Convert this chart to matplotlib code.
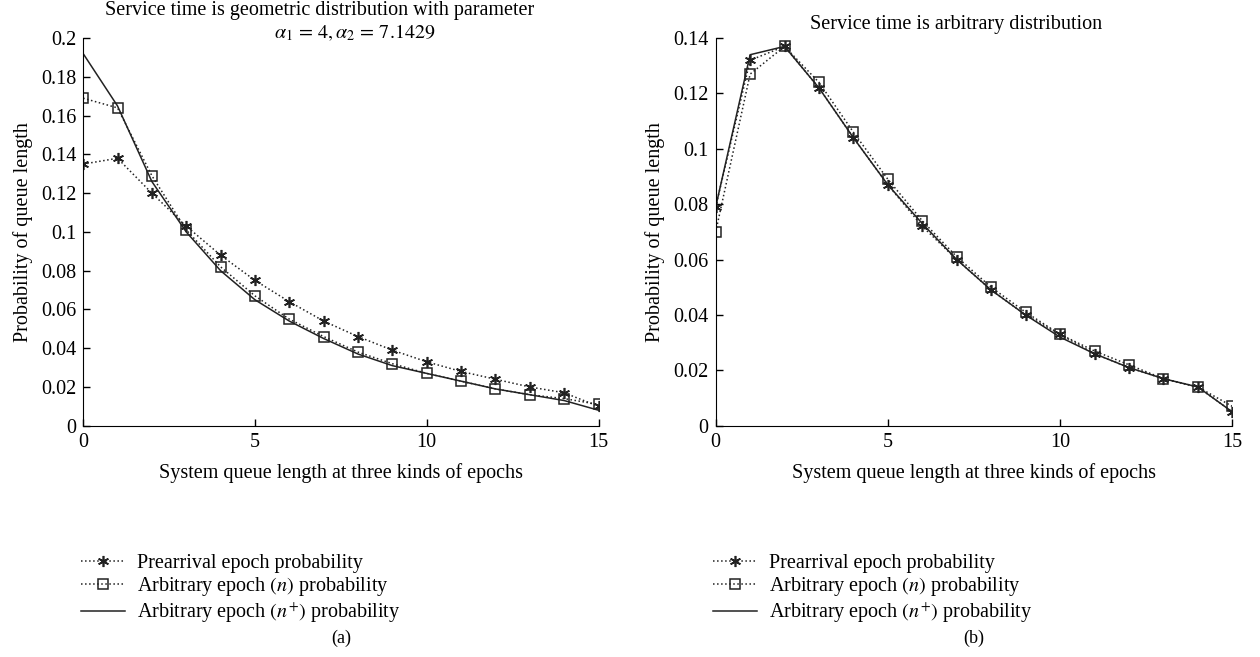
import numpy as np
import matplotlib
matplotlib.use("Agg")
import matplotlib.pyplot as plt

plt.rcParams['font.family'] = ['Liberation Serif', 'DejaVu Serif']
plt.rcParams['mathtext.fontset'] = 'stix'
plt.rcParams['font.size'] = 14.5

x = np.arange(16)

# (a) geometric service time
pre_a = [0.135, 0.138, 0.120, 0.103, 0.088, 0.075, 0.064, 0.054, 0.046, 0.039,
         0.033, 0.028, 0.024, 0.020, 0.017, 0.010]
arb_a = [0.169, 0.164, 0.129, 0.101, 0.082, 0.067, 0.055, 0.046, 0.038, 0.032,
         0.027, 0.023, 0.019, 0.016, 0.014, 0.011]
plus_a = [0.192, 0.165, 0.126, 0.100, 0.080, 0.065, 0.054, 0.045, 0.037, 0.031,
          0.027, 0.023, 0.019, 0.016, 0.013, 0.008]

# (b) arbitrary service time
pre_b = [0.079, 0.132, 0.137, 0.122, 0.104, 0.087, 0.072, 0.060, 0.049, 0.040,
         0.033, 0.026, 0.021, 0.017, 0.014, 0.005]
arb_b = [0.070, 0.127, 0.137, 0.124, 0.106, 0.089, 0.074, 0.061, 0.050, 0.041,
         0.033, 0.027, 0.022, 0.017, 0.014, 0.007]
plus_b = [0.079, 0.134, 0.137, 0.122, 0.104, 0.087, 0.073, 0.060, 0.049, 0.040,
          0.032, 0.026, 0.021, 0.017, 0.014, 0.005]

labels = ['Prearrival epoch probability',
          'Arbitrary epoch $(n)$ probability',
          'Arbitrary epoch $(n^{+})$ probability']

fig = plt.figure(figsize=(12.6, 6.57), dpi=100)
ax1 = fig.add_axes([0.066, 0.352, 0.409, 0.590])
ax2 = fig.add_axes([0.568, 0.352, 0.410, 0.590])


def draw(ax, pre, arb, plus, ymax, yticks, yticklabels, tag):
    ax.plot(x, pre, color='#222222', linestyle=':', linewidth=1.1,
            marker=(6, 2, 0), markersize=8, markeredgewidth=1.2, label=labels[0])
    ax.plot(x, arb, color='#222222', linestyle=':', linewidth=1.1,
            marker='s', markersize=7.5, markerfacecolor='none',
            markeredgewidth=1.1, label=labels[1])
    ax.plot(x, plus, color='#222222', linestyle='-', linewidth=1.1, label=labels[2])
    ax.set_xlim(0, 15)
    ax.set_ylim(0, ymax)
    ax.set_xticks([0, 5, 10, 15])
    ax.set_yticks(yticks)
    ax.set_yticklabels(yticklabels)
    ax.spines['top'].set_visible(False)
    ax.spines['right'].set_visible(False)
    ax.tick_params(direction='in', length=5, width=1, pad=5)
    ax.set_xlabel('System queue length at three kinds of epochs', labelpad=8)
    ax.set_ylabel('Probability of queue length', labelpad=6)
    ax.legend(loc='upper left', bbox_to_anchor=(-0.005, -0.33), frameon=False,
              borderpad=0, borderaxespad=0, handlelength=2.2,
              handletextpad=0.6, labelspacing=0.12, fontsize=14.5)
    ax.text(0.5, -0.548, tag, transform=ax.transAxes, ha='center', va='center',
            fontsize=13)


draw(ax1, pre_a, arb_a, plus_a, 0.2,
     [0, 0.02, 0.04, 0.06, 0.08, 0.1, 0.12, 0.14, 0.16, 0.18, 0.2],
     ['0', '0.02', '0.04', '0.06', '0.08', '0.1', '0.12', '0.14', '0.16', '0.18', '0.2'],
     '(a)')
draw(ax2, pre_b, arb_b, plus_b, 0.14,
     [0, 0.02, 0.04, 0.06, 0.08, 0.1, 0.12, 0.14],
     ['0', '0.02', '0.04', '0.06', '0.08', '0.1', '0.12', '0.14'],
     '(b)')

fig.text(320 / 1260, 1 - 10 / 657, 'Service time is geometric distribution with parameter',
         ha='center', va='center', fontsize=14.5)
fig.text(355 / 1260, 1 - 33 / 657, r'$\alpha_1\, =\, 4, \alpha_2\, =\, 7.1429$',
         ha='center', va='center', fontsize=14.5)
fig.text(956 / 1260, 1 - 24 / 657, 'Service time is arbitrary distribution',
         ha='center', va='center', fontsize=14.5)

fig.savefig('out.png', dpi=100)
